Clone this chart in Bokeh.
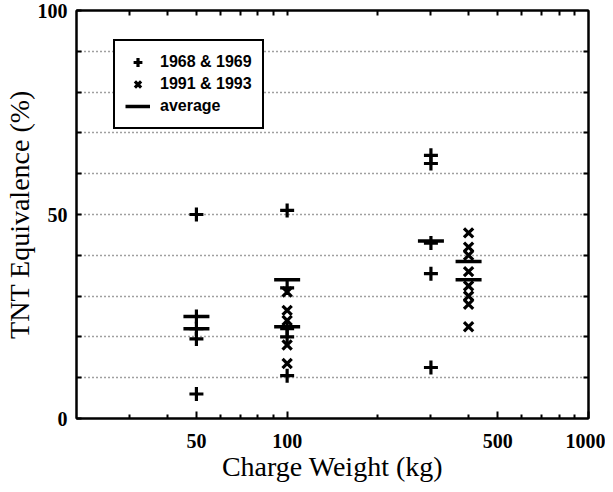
from bokeh.plotting import figure
from bokeh.models import FixedTicker, LogAxis, LinearAxis, Legend, LegendItem, NumeralTickFormatter
from bokeh.embed import file_html
from bokeh.resources import INLINE

# ---- data ----
plus_kg = [50, 50, 50, 50, 50, 100, 100, 100, 100, 100, 300, 300, 300, 300, 300]
plus_pct = [50, 25, 22, 19.5, 6, 51, 32, 22, 20, 10.5, 64.5, 62.5, 43, 35.5, 12.5]
cross_kg = [100, 100, 100, 100, 100, 400, 400, 400, 400, 400, 400, 400, 400]
cross_pct = [31, 26.5, 24, 18, 13.5, 45.5, 42, 40, 36, 32.5, 30, 28, 22.5]
avg_kg = [50, 50, 100, 100, 300, 400, 400]
avg_pct = [25, 22, 34, 22.5, 43.5, 38.5, 34]

x_major = [50, 100, 500, 1000]
x_minor = [30, 40, 60, 70, 80, 90, 200, 300, 400, 600, 700, 800, 900]
x_top_ticks = [30, 40, 50, 60, 70, 80, 90, 100, 200, 300, 400, 500, 600, 700, 800, 900]
y_major = [0, 50, 100]
y_minor = [10, 20, 30, 40, 60, 70, 80, 90]
y_grid = [10, 20, 30, 40, 50, 60, 70, 80, 90]
y_right_ticks = [10, 20, 30, 40, 50, 60, 70, 80, 90]

x_title = "Charge Weight (kg)"
y_title = "TNT Equivalence (%)"

SERIF = "Liberation Serif"
SANS = "Liberation Sans"

p = figure(width=605, height=484, x_axis_type="log", x_range=(20, 1000), y_range=(0, 100),
           output_backend="svg", toolbar_location=None,
           min_border_left=72, min_border_right=17, min_border_top=10, min_border_bottom=60)

p.outline_line_color = "black"
p.outline_line_alpha = 1
p.outline_line_width = 2
p.background_fill_color = "white"
p.border_fill_color = "white"

# x axis
xa = p.xaxis[0]
xa.ticker = FixedTicker(ticks=x_major, minor_ticks=x_minor)
xa.formatter = NumeralTickFormatter(format="0")
xa.major_tick_in = 7
xa.major_tick_out = 0
xa.minor_tick_in = 4
xa.minor_tick_out = 0
xa.axis_line_color = "black"
xa.axis_line_width = 2
xa.major_tick_line_width = 2
xa.minor_tick_line_width = 2
xa.major_label_standoff = 15
xa.major_label_text_font = SERIF
xa.major_label_text_font_style = "bold"
xa.major_label_text_font_size = "20px"
xa.major_label_text_color = "black"
xa.axis_label = x_title
xa.axis_label_text_font = SERIF
xa.axis_label_text_font_style = "normal"
xa.axis_label_text_font_size = "28px"
xa.axis_label_text_color = "black"
xa.axis_label_standoff = 0

# y axis
ya = p.yaxis[0]
ya.ticker = FixedTicker(ticks=y_major, minor_ticks=y_minor)
ya.major_tick_in = 5
ya.major_tick_out = 0
ya.minor_tick_in = 5
ya.minor_tick_out = 0
ya.major_tick_line_width = 2
ya.minor_tick_line_width = 2
ya.axis_line_color = "black"
ya.axis_line_width = 2
ya.major_label_standoff = 9
ya.major_label_text_font = SERIF
ya.major_label_text_font_style = "bold"
ya.major_label_text_font_size = "20px"
ya.major_label_text_color = "black"
ya.axis_label = y_title
ya.axis_label_text_font = SERIF
ya.axis_label_text_font_style = "normal"
ya.axis_label_text_font_size = "28px"
ya.axis_label_text_color = "black"
ya.axis_label_standoff = 0

# top and right inner ticks (no labels)
top = LogAxis(ticker=FixedTicker(ticks=[], minor_ticks=x_top_ticks),
              minor_tick_in=5, minor_tick_out=0, minor_tick_line_width=2,
              major_tick_in=0, major_tick_out=0,
              axis_line_color="black", axis_line_width=2)
p.add_layout(top, "above")
right = LinearAxis(ticker=FixedTicker(ticks=[], minor_ticks=y_right_ticks),
                   minor_tick_in=5, minor_tick_out=0, minor_tick_line_width=2,
                   major_tick_in=0, major_tick_out=0,
                   axis_line_color="black", axis_line_width=2)
p.add_layout(right, "right")

# grid
p.xgrid.grid_line_color = None
p.ygrid.ticker = FixedTicker(ticks=y_grid)
p.ygrid.grid_line_color = "black"
p.ygrid.grid_line_alpha = 0.75
p.ygrid.grid_line_dash = "1 3"
p.ygrid.grid_line_width = 1.3

# data marks
r_plus = p.scatter(plus_kg, plus_pct, marker="cross", size=14, line_width=3.2, line_color="black")
r_cross = p.scatter(cross_kg, cross_pct, marker="x", size=13, line_width=3.2, line_color="black")
r_avg = p.scatter(avg_kg, avg_pct, marker="dash", size=26, line_width=3.5, line_color="black")
r_avg_leg = p.line(avg_kg[:1], avg_pct[:1], line_width=3.5, line_color="black")

legend = Legend(items=[LegendItem(label="1968 & 1969", renderers=[r_plus]),
                       LegendItem(label="1991 & 1993", renderers=[r_cross]),
                       LegendItem(label="average", renderers=[r_avg_leg])],
                location=(37, 289))
legend.border_line_color = "black"
legend.border_line_alpha = 1
legend.border_line_width = 2
legend.background_fill_color = "white"
legend.background_fill_alpha = 1
legend.label_text_font = SANS
legend.label_text_font_style = "bold"
legend.label_text_font_size = "16px"
legend.label_text_color = "black"
legend.glyph_width = 25
legend.glyph_height = 22
legend.spacing = 0
legend.padding = 10
legend.margin = 0
legend.label_standoff = 10
legend.label_height = 20
p.add_layout(legend, "center")

open("out.html", "w").write(file_html(p, INLINE))
